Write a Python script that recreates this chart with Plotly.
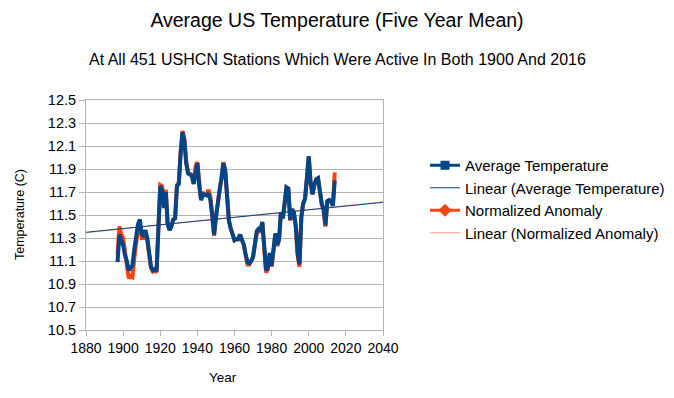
import plotly.graph_objects as go

years = list(range(1897, 2015))

avg_temp = [
    11.09, 11.33, 11.28, 11.24, 11.15, 11.10, 11.02, 11.04, 11.06, 11.20,  # 1897-1906
    11.34, 11.42, 11.46, 11.34, 11.31, 11.37, 11.30, 11.14, 11.05, 11.02,  # 1907-1916
    11.03, 11.01, 11.35, 11.75, 11.72, 11.56, 11.70, 11.42, 11.37, 11.40,  # 1917-1926
    11.46, 11.47, 11.75, 11.77, 12.04, 12.22, 12.15, 11.95, 11.86, 11.85,  # 1927-1936
    11.84, 11.77, 11.88, 11.95, 11.75, 11.63, 11.68, 11.67, 11.67, 11.69,  # 1937-1946
    11.63, 11.50, 11.33, 11.48, 11.62, 11.72, 11.82, 11.95, 11.88, 11.60,  # 1947-1956
    11.45, 11.38, 11.32, 11.28, 11.29, 11.29, 11.33, 11.28, 11.24, 11.16,  # 1957-1966
    11.09, 11.08, 11.10, 11.14, 11.25, 11.36, 11.38, 11.37, 11.44, 11.20,  # 1967-1976
    11.02, 11.04, 11.17, 11.06, 11.20, 11.34, 11.24, 11.29, 11.52, 11.47,  # 1977-1986
    11.60, 11.74, 11.73, 11.46, 11.55, 11.52, 11.41, 11.17, 11.07, 11.48,  # 1987-1996
    11.60, 11.64, 11.82, 12.01, 11.78, 11.68, 11.76, 11.81, 11.82, 11.68,  # 1997-2006
    11.60, 11.55, 11.41, 11.62, 11.63, 11.62, 11.58, 11.80,                # 2007-2014
]

norm_anomaly = [
    11.16, 11.40, 11.33, 11.30, 11.18, 11.08, 10.95, 10.97, 10.96, 11.12,  # 1897-1906
    11.28, 11.38, 11.43, 11.30, 11.30, 11.33, 11.28, 11.12, 11.04, 11.01,  # 1907-1916
    11.02, 11.00, 11.35, 11.76, 11.75, 11.58, 11.72, 11.42, 11.37, 11.40,  # 1917-1926
    11.46, 11.47, 11.76, 11.78, 12.05, 12.23, 12.16, 11.96, 11.87, 11.86,  # 1927-1936
    11.85, 11.78, 11.92, 11.96, 11.74, 11.63, 11.69, 11.68, 11.68, 11.72,  # 1937-1946
    11.66, 11.50, 11.32, 11.48, 11.62, 11.72, 11.82, 11.96, 11.89, 11.60,  # 1947-1956
    11.45, 11.38, 11.32, 11.28, 11.29, 11.29, 11.33, 11.28, 11.24, 11.15,  # 1957-1966
    11.07, 11.07, 11.10, 11.13, 11.24, 11.34, 11.37, 11.35, 11.43, 11.19,  # 1967-1976
    11.00, 11.03, 11.16, 11.05, 11.19, 11.33, 11.23, 11.28, 11.52, 11.47,  # 1977-1986
    11.60, 11.74, 11.73, 11.45, 11.55, 11.52, 11.40, 11.15, 11.05, 11.48,  # 1987-1996
    11.60, 11.64, 11.82, 12.01, 11.78, 11.68, 11.76, 11.81, 11.82, 11.68,  # 1997-2006
    11.59, 11.54, 11.40, 11.62, 11.63, 11.62, 11.58, 11.87,                # 2007-2014
]

trend_years = [1880, 2040]
trend_avg = [11.35, 11.61]
trend_norm = [11.345, 11.615]

x_ticks = [1880, 1900, 1920, 1940, 1960, 1980, 2000, 2020, 2040]
y_ticks = [10.5, 10.7, 10.9, 11.1, 11.3, 11.5, 11.7, 11.9, 12.1, 12.3, 12.5]

BLUE = "#004586"
ORANGE = "#ff420e"
LIGHT_ORANGE = "#ff9d80"
GRID = "#b3b3b3"
FONT = "Liberation Sans, Arial, sans-serif"

fig = go.Figure()

# data lines (drawn orange first so blue sits on top)
fig.add_trace(go.Scatter(x=trend_years, y=trend_norm, mode="lines",
                         line=dict(color=LIGHT_ORANGE, width=1), showlegend=False, hoverinfo="skip"))
fig.add_trace(go.Scatter(x=years, y=norm_anomaly, mode="lines",
                         line=dict(color=ORANGE, width=4), showlegend=False))
fig.add_trace(go.Scatter(x=years, y=avg_temp, mode="lines",
                         line=dict(color=BLUE, width=4), showlegend=False))
fig.add_trace(go.Scatter(x=trend_years, y=trend_avg, mode="lines",
                         line=dict(color=BLUE, width=1), showlegend=False, hoverinfo="skip"))

# legend entries
fig.add_trace(go.Scatter(x=[None], y=[None], mode="lines+markers", name="Average Temperature",
                         line=dict(color=BLUE, width=3),
                         marker=dict(symbol="square", size=9, color=BLUE), legendrank=1))
fig.add_trace(go.Scatter(x=[None], y=[None], mode="lines", name="Linear (Average Temperature)",
                         line=dict(color=BLUE, width=1), legendrank=2))
fig.add_trace(go.Scatter(x=[None], y=[None], mode="lines+markers", name="Normalized Anomaly",
                         line=dict(color=ORANGE, width=3),
                         marker=dict(symbol="diamond", size=10, color=ORANGE), legendrank=3))
fig.add_trace(go.Scatter(x=[None], y=[None], mode="lines", name="Linear (Normalized Anomaly)",
                         line=dict(color=LIGHT_ORANGE, width=1), legendrank=4))

L, R, T, B = 86, 291, 100, 68
W, H = 674, 398
pw = W - L - R
ph = H - T - B

fig.update_layout(
    width=W, height=H,
    margin=dict(l=L, r=R, t=T, b=B, autoexpand=False),
    paper_bgcolor="white", plot_bgcolor="white",
    font=dict(family=FONT, size=13, color="black"),
    title=dict(text="Average US Temperature (Five Year Mean)", x=0.5, xanchor="center",
               y=1 - 20 / H, yanchor="middle", yref="container",
               font=dict(size=19.5, color="black", family=FONT)),
    showlegend=True,
    legend=dict(x=(425 - L) / pw, xanchor="left", y=(330 - 149) / ph, yanchor="top",
                font=dict(size=15, color="black", family=FONT),
                bgcolor="rgba(0,0,0,0)", tracegroupgap=0, itemwidth=30),
    xaxis=dict(range=[1880, 2040], tickvals=x_ticks, ticktext=[str(v) for v in x_ticks],
               showgrid=False, zeroline=False, showline=True, linecolor=GRID, linewidth=1,
               mirror=True, ticks="outside", ticklen=5, tickcolor=GRID,
               tickfont=dict(size=14, color="black", family=FONT)),
    yaxis=dict(range=[10.5, 12.5], tickvals=y_ticks, ticktext=[f"{v:.1f}" for v in y_ticks],
               showgrid=True, gridcolor=GRID, gridwidth=1, zeroline=False,
               showline=True, linecolor=GRID, linewidth=1, mirror=True,
               ticks="outside", ticklen=6, tickcolor=GRID,
               tickfont=dict(size=14.5, color="black", family=FONT)),
    annotations=[
        dict(text="At All 451 USHCN Stations Which Were Active In Both 1900 And 2016",
             xref="paper", yref="paper", x=(337 - L) / pw, y=(T + ph - 60) / ph,
             xanchor="center", yanchor="middle", showarrow=False,
             font=dict(size=16, color="black", family=FONT)),
        dict(text="Temperature (C)", xref="paper", yref="paper",
             x=(20 - L) / pw, y=(T + ph - 215) / ph, textangle=-90,
             xanchor="center", yanchor="middle", showarrow=False,
             font=dict(size=12.5, color="black", family=FONT)),
        dict(text="Year", xref="paper", yref="paper",
             x=(223 - L) / pw, y=(T + ph - 377) / ph,
             xanchor="center", yanchor="middle", showarrow=False,
             font=dict(size=13.5, color="black", family=FONT)),
    ],
)

fig.write_html("out.html", config={"displayModeBar": False})

# remove default browser page margin so the figure sits at the window origin
with open("out.html", "r", encoding="utf-8") as f:
    html = f.read()
html = html.replace("<head>", "<head><style>html,body{margin:0;padding:0;}</style>", 1)
with open("out.html", "w", encoding="utf-8") as f:
    f.write(html)
